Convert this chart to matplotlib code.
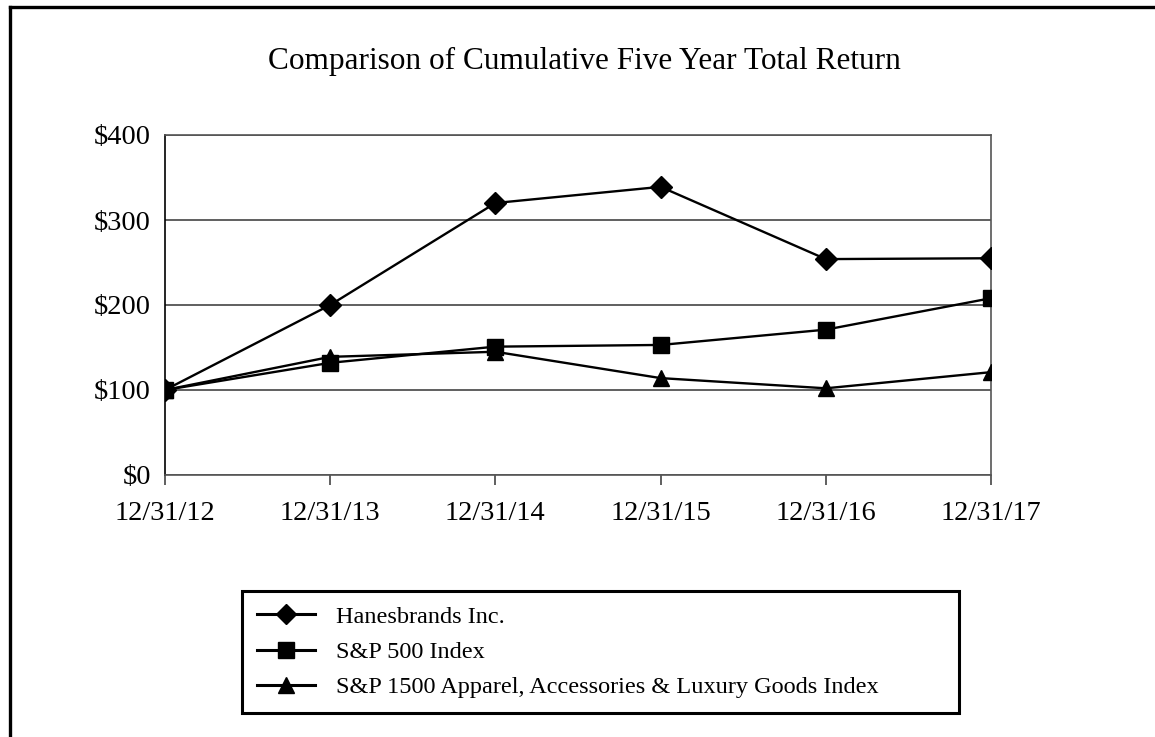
import matplotlib
matplotlib.use("Agg")
import matplotlib.pyplot as plt
from matplotlib.lines import Line2D

plt.rcParams['font.family'] = ['Liberation Serif', 'DejaVu Serif']

# data
dates = ['12/31/12', '12/31/13', '12/31/14', '12/31/15', '12/31/16', '12/31/17']
hanes = [100, 200, 320, 339, 254, 255]
sp500 = [100, 132, 151, 153, 171, 208]
apparel = [100, 139, 145, 114, 102, 121]
y_ticks = [0, 100, 200, 300, 400]

W, H = 1155, 737
fig = plt.figure(figsize=(W / 100, H / 100), dpi=100)

# outer frame (top and left edges only, the rest is cropped)
fig.add_artist(Line2D([9.5 / W, 9.5 / W], [1 - 6.5 / H, 0], color='black', lw=2.4,
                      transform=fig.transFigure))
fig.add_artist(Line2D([9.5 / W, 1], [1 - 6.5 / H, 1 - 6.5 / H], color='black', lw=2.4,
                      transform=fig.transFigure))

ax = fig.add_axes([165 / W, 1 - 475 / H, (991 - 165) / W, (475 - 135) / H])
x = list(range(len(dates)))

ax.plot(x, hanes, color='black', lw=1.7, marker='D', ms=11, label='Hanesbrands Inc.', zorder=3)
ax.plot(x, sp500, color='black', lw=1.7, marker='s', ms=11.5, label='S&P 500 Index', zorder=3)
ax.plot(x, apparel, color='black', lw=1.7, marker='^', ms=11.5,
        label='S&P 1500 Apparel, Accessories & Luxury Goods Index', zorder=3)

ax.set_xlim(0, 5)
ax.set_ylim(0, 400)
ax.set_xticks(x)
ax.set_xticklabels(dates)
ax.set_yticks(y_ticks)
ax.set_yticklabels(['$' + str(v) for v in y_ticks])
ax.yaxis.grid(True, color='#444444', lw=1.2)
ax.set_axisbelow(True)
ax.tick_params(axis='y', length=0, pad=10, labelsize=20.5)
ax.tick_params(axis='x', length=7, width=1.2, color='#444444', direction='out', pad=12, labelsize=20.5)
for s in ax.spines.values():
    s.set_color('#555555')
    s.set_linewidth(1.2)
ax.spines['left'].set_color('black')

fig.text(584 / W, 1 - 61 / H, 'Comparison of Cumulative Five Year Total Return',
         ha='center', va='center', fontsize=22.5)

handles, labels = ax.get_legend_handles_labels()
leg = fig.legend(handles, labels, loc='lower left',
                 bbox_to_anchor=(242 / W, 1 - 713 / H, (959 - 242) / W, (713 - 588) / H),
                 mode='expand', fontsize=17.5, frameon=True, fancybox=False,
                 edgecolor='black', framealpha=1, handlelength=2.4, handletextpad=0.85,
                 borderaxespad=0, borderpad=0.6, labelspacing=0.55, markerscale=0.95)
leg.get_frame().set_linewidth(2.2)
for ln in leg.get_lines():
    ln.set_linewidth(2.2)

fig.savefig('out.png', dpi=100)
